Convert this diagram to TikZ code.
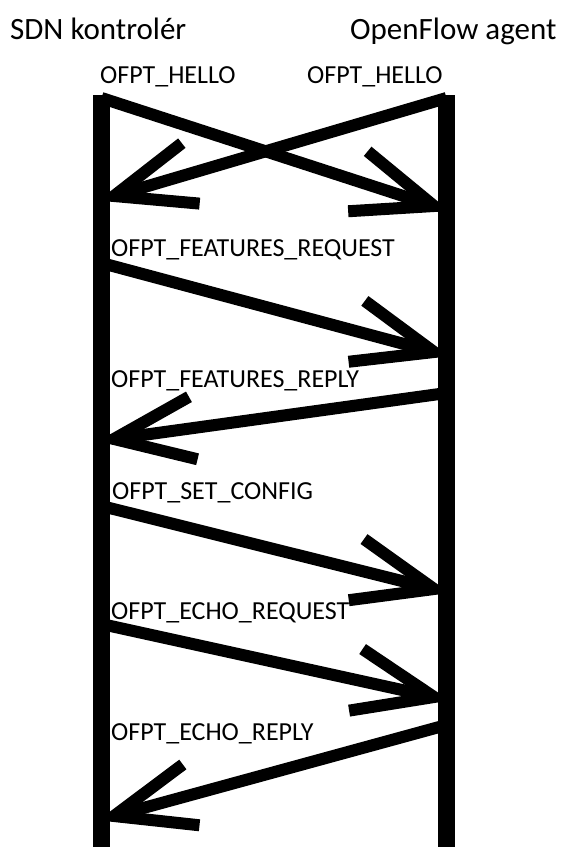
\documentclass[tikz,border=0pt]{standalone}
\usepackage{fontspec}
\setmainfont{Carlito}
\usetikzlibrary{calc}
\tikzset{
  lifeline/.style={line width=17pt, line cap=butt},
  msgline/.style={line width=12pt, line cap=butt},
  headline/.style={line width=12pt, line cap=butt, line join=miter},
  titletext/.style={anchor=base west, inner sep=0pt, font=\fontsize{31}{36}\selectfont},
  msglabel/.style={anchor=base west, inner sep=0pt, font=\fontsize{26}{30}\selectfont},
}
\newcommand{\msgarrow}[2]{%
  \draw[msgline] (#1) -- (#2);
  \draw[headline] ($(#2)!86pt!21.5:(#1)$) -- (#2) -- ($(#2)!86pt!-21.5:(#1)$);
}
\begin{document}
\begin{tikzpicture}[x=1pt,y=-1pt]
\useasboundingbox (0,0) rectangle (563,847);
% lifelines
\coordinate (Ltop) at (101.5,95);
\coordinate (Lbot) at (101.5,847);
\coordinate (Rtop) at (446.5,95);
\coordinate (Rbot) at (446.5,847);
\draw[lifeline] (Ltop) -- (Lbot);
\draw[lifeline] (Rtop) -- (Rbot);
% message endpoints
\coordinate (m1a) at (101.5,98);  \coordinate (m1b) at (434,206);
\coordinate (m2a) at (446.5,98);  \coordinate (m2b) at (114,196);
\coordinate (m3a) at (101.5,263); \coordinate (m3b) at (434,352);
\coordinate (m4a) at (446.5,393); \coordinate (m4b) at (114,439);
\coordinate (m5a) at (101.5,506); \coordinate (m5b) at (434,589);
\coordinate (m6a) at (101.5,624); \coordinate (m6b) at (434,697);
\coordinate (m7a) at (446.5,725); \coordinate (m7b) at (114,816);
\msgarrow{m1a}{m1b}
\msgarrow{m2a}{m2b}
\msgarrow{m3a}{m3b}
\msgarrow{m4a}{m4b}
\msgarrow{m5a}{m5b}
\msgarrow{m6a}{m6b}
\msgarrow{m7a}{m7b}
% titles
\node[titletext] (tctl) at (10,39) {SDN kontrolér};
\node[titletext] (tagt) at (350,39) {OpenFlow agent};
% labels
\node[msglabel] (l1) at (100,83) {OFPT\_HELLO};
\node[msglabel] (l2) at (307,83) {OFPT\_HELLO};
\node[msglabel] (l3) at (111,256) {OFPT\_FEATURES\_REQUEST};
\node[msglabel] (l4) at (111,387.5) {OFPT\_FEATURES\_REPLY};
\node[msglabel] (l5) at (112,499) {OFPT\_SET\_CONFIG};
\node[msglabel] (l6) at (111,619) {OFPT\_ECHO\_REQUEST};
\node[msglabel] (l7) at (111,740) {OFPT\_ECHO\_REPLY};
\end{tikzpicture}
\end{document}
